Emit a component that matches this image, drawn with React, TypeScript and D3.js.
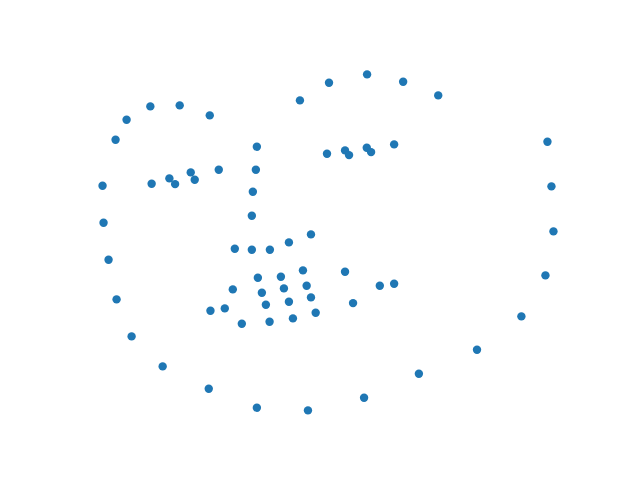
import * as d3 from "d3";

// 68 facial landmark points (image coordinates, y grows downward)
const jawX = [103.3, 104.3, 109.3, 117.3, 132.3, 163.3, 209.3, 257.3, 308.3, 364.3, 419, 477, 521.3, 545.3, 553.3, 551.3, 547.3];
const jawY = [185.3, 222.3, 259.3, 299, 336, 366, 388.3, 407.3, 410, 397.3, 373.3, 349.3, 316, 275, 231, 186, 141.3];

const browLeftX = [116.3, 127.3, 151, 180.3, 210.3];
const browLeftY = [139.3, 119.3, 106, 105, 115];
const browRightX = [300.3, 329.3, 367.3, 403.3, 438.3];
const browRightY = [100, 82.3, 74, 81.3, 95];

const noseX = [257.3, 256.3, 253.3, 252.3, 235.3, 252.3, 270.3, 289.3, 311.3];
const noseY = [146.3, 169.3, 191.3, 215.3, 248.3, 249.3, 249.3, 242, 234];

const eyeLeftX = [152.3, 170, 191.3, 219.3, 195.3, 175.7];
const eyeLeftY = [183.3, 178, 172, 169.3, 179.3, 183.7];
const eyeRightX = [327.3, 345.3, 367, 394.3, 371.3, 349.3];
const eyeRightY = [153.3, 150, 147.3, 144, 151.7, 154.7];

const mouthX = [211, 233.3, 258.3, 281.3, 303.3, 345.3, 394.3, 380, 353.3, 316, 293.3, 270, 242.3, 225.3, 262.3, 284.3, 307, 311.3, 289.3, 266.3];
const mouthY = [310.3, 289, 277.3, 276.3, 270, 271.3, 283.3, 285.3, 302.7, 312.3, 318, 321.3, 323.3, 308, 292.3, 288, 285.3, 297, 301.3, 304.3];

const xs = [...jawX, ...browLeftX, ...browRightX, ...noseX, ...eyeLeftX, ...eyeRightX, ...mouthX];
const ys = [...jawY, ...browLeftY, ...browRightY, ...noseY, ...eyeLeftY, ...eyeRightY, ...mouthY];
const points = xs.map((x, i) => ({ x, y: ys[i] }));

const width = 640;
const height = 480;
const marginLeft = 80;
const marginRight = 64;
const marginTop = 57.6;
const marginBottom = 52.8;

function padded(ext: [number, number]): [number, number] {
  const pad = (ext[1] - ext[0]) * 0.05;
  return [ext[0] - pad, ext[1] + pad];
}

export default function App() {
  const xScale = d3
    .scaleLinear()
    .domain(padded(d3.extent(xs) as [number, number]))
    .range([marginLeft, width - marginRight]);
  // y in image coordinates: larger values lower on the page
  const yScale = d3
    .scaleLinear()
    .domain(padded(d3.extent(ys) as [number, number]))
    .range([marginTop, height - marginBottom]);

  return (
    <svg
      width={width}
      height={height}
      style={{ position: "absolute", left: 0, top: 0, background: "#fff" }}
    >
      <g fill="#1f77b4">
        {points.map((d, i) => (
          <circle key={i} cx={xScale(d.x)} cy={yScale(d.y)} r={4.2} />
        ))}
      </g>
    </svg>
  );
}
